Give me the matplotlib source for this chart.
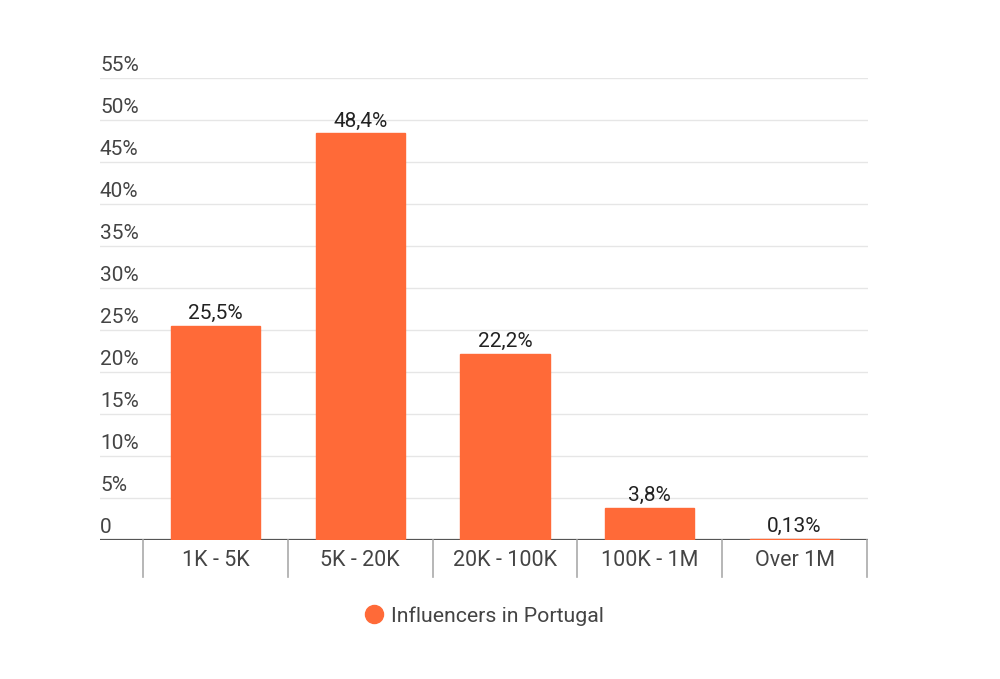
import matplotlib
matplotlib.use("Agg")
import matplotlib.pyplot as plt
from matplotlib.lines import Line2D
from matplotlib.transforms import blended_transform_factory, offset_copy

plt.rcParams['font.family'] = ['Roboto', 'DejaVu Sans']

categories = ["1K - 5K", "5K - 20K", "20K - 100K", "100K - 1M", "Over 1M"]
values = [25.5, 48.4, 22.2, 3.8, 0.13]
value_labels = ["25,5%", "48,4%", "22,2%", "3,8%", "0,13%"]
y_ticks = [0, 5, 10, 15, 20, 25, 30, 35, 40, 45, 50, 55]
y_tick_labels = ["0", "5%", "10%", "15%", "20%", "25%", "30%", "35%", "40%", "45%", "50%", "55%"]
series_name = "Influencers in Portugal"

bar_color = "#ff6a38"
W, H = 1000, 679
fig = plt.figure(figsize=(W / 100, H / 100), dpi=100)
ax_left, ax_right, ax_bottom, ax_top = 100, 868, 540, 78
ax = fig.add_axes([ax_left / W, 1 - ax_bottom / H, (ax_right - ax_left) / W, (ax_bottom - ax_top) / H])

x = list(range(len(categories)))
ax.bar(x, values, width=0.615, color=bar_color, edgecolor=bar_color, linewidth=1.0, zorder=3)

ax.set_xlim(-0.797, 4.507)
ax.set_ylim(0, 55)

for s in ax.spines.values():
    s.set_visible(False)
ax.set_xticks([])
ax.set_yticks([])

# gridlines
for t in y_ticks[1:]:
    ax.axhline(t, color="#e6e6e6", lw=1, zorder=1)
# baseline
ax.axhline(0, color="#555555", lw=1.6, zorder=2)

# y labels above gridlines, left aligned
trans_y = blended_transform_factory(ax.transAxes, ax.transData)
for t, lab in zip(y_ticks, y_tick_labels):
    ax.text(0, t, lab, transform=offset_copy(trans_y, fig=fig, x=0, y=2.5, units='points'),
            ha='left', va='bottom', fontsize=15, color="#444444")

# category separators and labels
trans_x = blended_transform_factory(ax.transData, ax.transAxes)
for i in range(len(categories) + 1):
    ax.add_line(Line2D([i - 0.5, i - 0.5], [0, -37 / 462], transform=trans_x,
                       color="#aaaaaa", lw=1.2, clip_on=False))
for i, c in enumerate(categories):
    ax.text(i, -20 / 462, c, transform=trans_x, ha='center', va='center',
            fontsize=15.5, color="#444444")

# value labels
for i, (v, lab) in enumerate(zip(values, value_labels)):
    ax.annotate(lab, (i, v), xytext=(0, 2), textcoords='offset points',
                ha='center', va='bottom', fontsize=15, color="#222222", zorder=5)

# legend
handle = Line2D([], [], marker='o', linestyle='none', markersize=13,
                markerfacecolor=bar_color, markeredgecolor=bar_color)
fig.legend([handle], [series_name], loc='center', bbox_to_anchor=(484 / W, 1 - 616 / H),
           frameon=False, fontsize=15.3, labelcolor="#444444", handletextpad=0.3,
           handlelength=1.0)

fig.savefig("out.png", dpi=100, facecolor="white")
